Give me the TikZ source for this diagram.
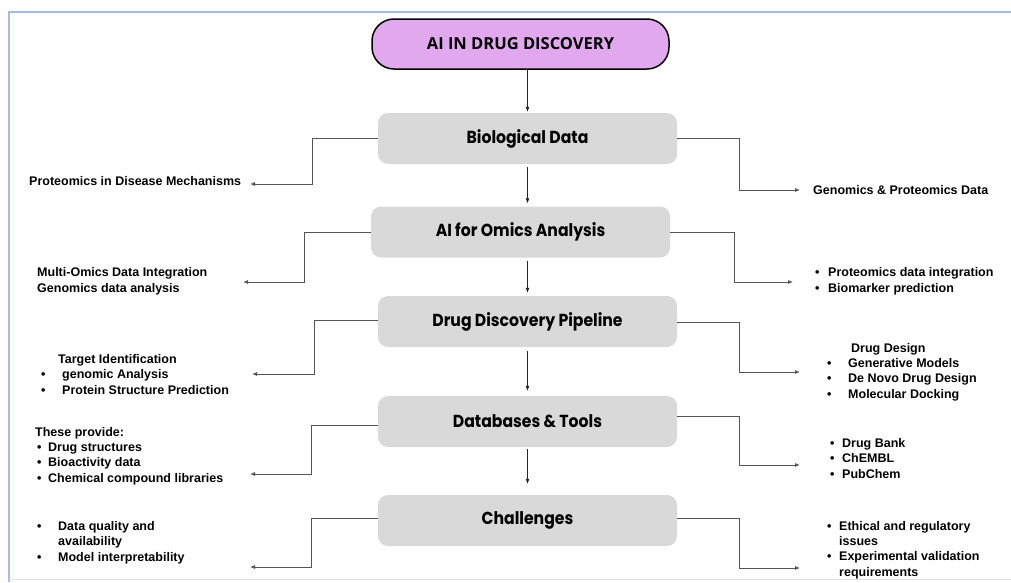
\documentclass[tikz,border=0pt]{standalone}
\usepackage{fontspec}
\setmainfont{Liberation Sans}
\newfontfamily\boxfont[FakeStretch=0.9]{Poppins}
\newfontfamily\pillfont{Open Sans}
\usepackage{xcolor}
\usepackage{tikz}
\usetikzlibrary{arrows.meta}
\definecolor{pillpink}{RGB}{226,168,238}
\definecolor{boxgrey}{RGB}{217,217,217}
\definecolor{frameblue}{RGB}{164,188,226}
\definecolor{linkgrey}{RGB}{85,85,85}
\tikzset{
  stage/.style={fill=boxgrey, rounded corners=10pt, minimum width=299pt, minimum height=51pt, inner sep=0pt, font=\boxfont\bfseries\fontsize{17.4}{19}\selectfont},
  side/.style={anchor=base west, align=left, inner sep=0pt, font=\bfseries\fontsize{12.5}{15.2}\selectfont},
  down/.style={draw=black!85, line width=0.7pt, -{Latex[length=5pt,width=4pt]}},
  link/.style={draw=linkgrey, line width=0.8pt, -{Latex[length=5pt,width=4pt]}}
}
\newcommand{\bul}[1]{\makebox[#1][l]{\textbullet}}

\begin{document}
\begin{tikzpicture}[x=1pt,y=-1pt]
\useasboundingbox (0,0) rectangle (1011,582);
\draw[frameblue, line width=1.5pt] (1011,12) -- (9,12) -- (9,582);
\draw[black!12, line width=1pt] (9,579) -- (1011,579);
%
\node[draw=black, line width=1.5pt, fill=pillpink, rounded corners=22pt, minimum width=297pt, minimum height=50pt, font=\pillfont\bfseries\fontsize{16.5}{18}\selectfont] (aidd) at (520.5,44) {AI IN DRUG DISCOVERY};
%
\node[stage] (bio) at (527.5,138.5) {Biological Data};
\node[stage] (omics) at (520.5,232) {AI for Omics Analysis};
\node[stage] (pipe) at (527.5,321.5) {Drug Discovery Pipeline};
\node[stage] (dbt) at (527.5,421.5) {Databases \& Tools};
\node[stage] (chal) at (527.5,520.5) {Challenges};
%
\draw[down, shorten >=1pt] (aidd.south -| bio.north) -- (bio.north);
\draw[down, shorten <=3pt, shorten >=3pt] (bio.south) -- (bio.south |- omics.north);
\draw[down, shorten <=3pt, shorten >=3pt] (bio.south |- omics.south) -- (bio.south |- pipe.north);
\draw[down, shorten <=4pt, shorten >=5pt] (pipe.south) -- (dbt.north);
\draw[down, shorten <=2pt, shorten >=11pt] (dbt.south) -- (chal.north);
%
\coordinate (bioLe) at (250,184);
\coordinate (omicsLe) at (243,282);
\coordinate (pipeLe) at (252,374);
\coordinate (dbtLe) at (250,474);
\coordinate (chalLe) at (250,567);
\coordinate (bioRe) at (800,190);
\coordinate (omicsRe) at (793,282);
\coordinate (pipeRe) at (800,372);
\coordinate (dbtRe) at (800,465);
\coordinate (chalRe) at (800,568);
%
% multi-line nodes sit on their last line
\node[side] (bioL) at (29,185) {Proteomics in Disease Mechanisms};
\node[side] (omicsL) at (37,292) {Multi-Omics Data Integration\\Genomics data analysis};
\node[side] (pipeL) at (41,394) {\hspace*{17pt}Target Identification\\ \bul{21pt}genomic Analysis\\ \bul{21pt}Protein Structure Prediction};
\node[side] (dbtL) at (35,482) {These provide:\\ \hspace*{2pt}\bul{11pt}Drug structures\\ \hspace*{2pt}\bul{11pt}Bioactivity data\\ \hspace*{2pt}\bul{11pt}Chemical compound libraries};
\node[side] (chalL) at (37,561) {\bul{21pt}Data quality and\\ \hspace*{21pt}availability\\ \bul{21pt}Model interpretability};
%
\node[side] (bioR) at (813,194) {Genomics \& Proteomics Data};
\node[side] (omicsR) at (815,292) {\bul{13pt}Proteomics data integration\\ \bul{13pt}Biomarker prediction};
\node[side] (pipeR) at (827,398) {\hspace*{24pt}Drug Design\\ \bul{21pt}Generative Models\\ \bul{21pt}De Novo Drug Design\\ \bul{21pt}Molecular Docking};
\node[side] (dbtR) at (830,478) {\bul{12pt}Drug Bank\\ \bul{12pt}ChEMBL\\ \bul{12pt}PubChem};
\node[side] (chalR) at (827,576) {\bul{12pt}Ethical and regulatory\\ \hspace*{12pt}issues\\ \bul{12pt}Experimental validation\\ \hspace*{12pt}requirements};
%
\draw[link] (bio.west) -- ++(-65,0) |- (bioLe);
\draw[link] (omics.west) -- ++(-66,0) |- (omicsLe);
\draw[link] ([yshift=1pt]pipe.west) -- ++(-63,0) |- (pipeLe);
\draw[link] ([yshift=-4pt]dbt.west) -- ++(-66,0) |- (dbtLe);
\draw[link] ([yshift=2pt]chal.west) -- ++(-66,0) |- (chalLe);
\draw[link] (bio.east) -- ++(62,0) |- (bioRe);
\draw[link] (omics.east) -- ++(64,0) |- (omicsRe);
\draw[link] ([yshift=-1pt]pipe.east) -- ++(62,0) |- (pipeRe);
\draw[link] ([yshift=5pt]dbt.east) -- ++(62,0) |- (dbtRe);
\draw[link] ([yshift=2pt]chal.east) -- ++(62,0) |- (chalRe);
\end{tikzpicture}
\end{document}
